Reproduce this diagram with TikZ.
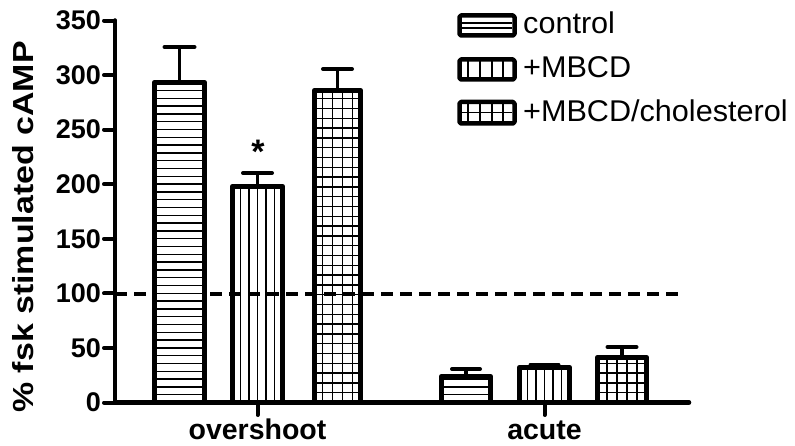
\documentclass[tikz,border=0pt]{standalone}
\usepackage{fontspec}
\setmainfont{Liberation Sans}
\usepackage{graphicx}
\newcommand\barHoriz[3]{% x1 x2 top (stroke centre lines)
  \begin{scope}
    \clip (#1,402.5) rectangle (#2,#3);
    \foreach \k in {1,...,45} \draw[hatchline] (#1-5,{402.5-\k*7.8}) -- (#2+5,{402.5-\k*7.8});
  \end{scope}
  \draw[barbox] (#1,402.5) -- (#1,#3) -- (#2,#3) -- (#2,402.5);}
\newcommand\barVert[3]{%
  \begin{scope}
    \clip (#1,402.5) rectangle (#2,#3);
    \foreach \d in {-17,-8.5,0,8.5,17} \draw[hatchline] ({(#1+#2)/2+\d},403) -- ({(#1+#2)/2+\d},#3);
  \end{scope}
  \draw[barbox] (#1,402.5) -- (#1,#3) -- (#2,#3) -- (#2,402.5);}
\newcommand\barGrid[3]{%
  \begin{scope}
    \clip (#1,402.5) rectangle (#2,#3);
    \foreach \d in {-15,-5,5,15} \draw[hatchline] ({(#1+#2)/2+\d},403) -- ({(#1+#2)/2+\d},#3);
    \foreach \k in {1,...,35} \draw[hatchline] (#1-5,{402.5-\k*9.8}) -- (#2+5,{402.5-\k*9.8});
  \end{scope}
  \draw[barbox] (#1,402.5) -- (#1,#3) -- (#2,#3) -- (#2,402.5);}
\newcommand\errBar[4]{% x top-of-bar top cap-halfwidth
  \draw[errstem] (#1,#2) -- (#1,#3);
  \draw[errcap] (#1-#4,#3) -- (#1+#4,#3);}
\begin{document}
\begin{tikzpicture}[x=1pt,y=-1pt,line join=round,
  barbox/.style={line width=5.5pt,line join=round},
  hatchline/.style={line width=1.4pt},
  errstem/.style={line width=3.5pt},
  errcap/.style={line width=4pt,line cap=round},
  axisline/.style={line width=4.5pt,line cap=round},
  tickline/.style={line width=4pt,line cap=round},
  ticklab/.style={font=\fontsize{27}{27}\selectfont\bfseries,anchor=east,inner sep=0pt},
  catlab/.style={font=\fontsize{28.5}{28.5}\selectfont\bfseries,anchor=base,inner sep=0pt},
  leglab/.style={font=\fontsize{30}{30}\selectfont,anchor=base west,inner sep=0pt},
  legbox/.style={line width=4.5pt,rounded corners=1.5pt}]
\useasboundingbox (0,0) rectangle (795,446);
% dashed reference line at 100
\draw[line width=4pt,dash pattern=on 12pt off 7pt] (115,294.5) -- (683,294.5);
% bars: overshoot
\fill[white] (154.5,402.5) rectangle (204.5,82.5);
\barHoriz{154.5}{204.5}{82.5}
\errBar{179.5}{82.5}{47}{15}
\barVert{232.5}{282.5}{186.5}
\errBar{257.5}{186.5}{173}{14.5}
\barGrid{314.5}{360.5}{90.5}
\errBar{337.5}{90.5}{69}{14.5}
% bars: acute
\barHoriz{441.5}{490.5}{376.5}
\errBar{466}{376.5}{369}{14}
\barVert{519.5}{569.5}{367.5}
\errBar{544.5}{367.5}{364.5}{14}
\barGrid{597.5}{646.5}{357.5}
\errBar{622}{357.5}{347}{14.5}
% axes
\draw[axisline] (115,20.5) -- (115,402.5) -- (689,402.5);
\foreach \v in {0,50,...,350}{
  \draw[tickline] (104,{402.5-1.0914*\v}) -- (115,{402.5-1.0914*\v});
  \node[ticklab] (t\v) at (101,{402.5-1.0914*\v}) {\v};
}
\draw[tickline] (257.5,402.5) -- (257.5,415);
\draw[tickline] (544.5,402.5) -- (544.5,415);
\node[catlab] (overshoot) at (257.5,439.5) {overshoot};
\node[catlab] (acute) at (544.5,439.5) {acute};
\node[font=\fontsize{34}{34}\selectfont\bfseries,inner sep=0pt] (star) at (258,152) {*};
% y label
\node[rotate=90,anchor=base,inner sep=0pt,font=\fontsize{29}{29}\selectfont\bfseries] (ylab) at (33,227) {\scalebox{1.17}[1]{\% fsk stimulated cAMP}};
% legend
\draw[legbox] (459.5,15.5) rectangle (514.5,35.5);
\draw[hatchline] (462,23) -- (512,23);
\draw[hatchline] (462,28) -- (512,28);
\draw[legbox] (459.5,59.5) rectangle (514.5,79.5);
\foreach \x in {468,480,492,503} \draw[hatchline] (\x,61) -- (\x,78);
\draw[legbox] (459.5,102) rectangle (514.5,123.5);
\foreach \x in {468,480,492,503} \draw[hatchline] (\x,104) -- (\x,122);
\draw[hatchline] (462,112.7) -- (512,112.7);
\node[leglab] (l1) at (523,34) {\scalebox{1.02}[1]{control}};
\node[leglab] (l2) at (523,78) {\scalebox{1.02}[1]{+MBCD}};
\node[leglab] (l3) at (523,122) {\scalebox{1.02}[1]{+MBCD/cholesterol}};
\end{tikzpicture}
\end{document}
